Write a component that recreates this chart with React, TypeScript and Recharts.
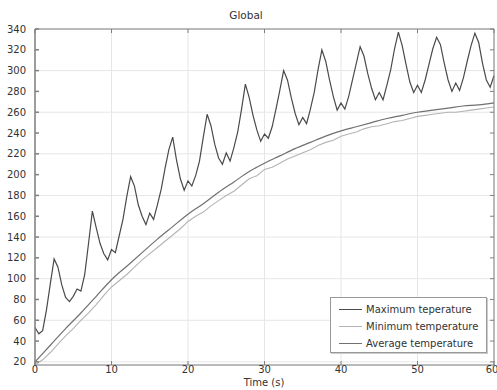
import { LineChart, Line, XAxis, YAxis, CartesianGrid } from 'recharts';

// maximum temperature, sampled every 0.5 s from t = 0 to 60
const maxTemp = [
  53, 47, 50, 70, 95, 119, 111, 94, 82, 78,
  83, 90, 88, 104, 134, 165, 149, 134, 124, 118,
  128, 125, 141, 157, 179, 198, 189, 171, 160, 152,
  163, 157, 171, 186, 206, 224, 236, 214, 196, 185,
  194, 189, 199, 213, 236, 258, 247, 229, 216, 210,
  221, 213, 226, 241, 263, 287, 274, 257, 243, 232,
  239, 235, 246, 263, 281, 300, 291, 274, 259, 248,
  255, 249, 263, 279, 301, 320, 309, 291, 275, 262,
  269, 263, 275, 291, 307, 323, 314, 297, 283, 272,
  279, 272, 286, 301, 321, 337, 324, 306, 289, 279,
  286, 279, 291, 306, 321, 332, 325, 307, 291, 280,
  288, 281, 293, 309, 324, 336, 327, 307, 291, 284,
  295,
];

// average temperature, every 2 s
const avgTemp = [
  20, 36, 52, 67, 83, 99, 112, 125, 138, 150, 162, 172, 183, 193, 203, 211,
  218, 225, 231, 237, 242, 246, 250, 254, 257, 260, 262, 264, 266, 267, 269,
];

// minimum temperature, every 1 s
const minTemp = [
  17, 22, 29, 37, 45, 52, 60, 67, 75, 84, 92, 98, 104, 111, 118, 124, 130, 136, 142, 148,
  155, 160, 164, 170, 175, 180, 184, 190, 196, 199, 205, 207, 211, 215, 218, 221, 224, 228,
  231, 233, 237, 239, 241, 244, 246, 247, 249, 251, 252, 254, 256, 257, 258, 259, 260, 260,
  261, 262, 263, 264, 265,
];

const xTicks = [0, 10, 20, 30, 40, 50, 60];
const yTicks = [20, 40, 60, 80, 100, 120, 140, 160, 180, 200, 220, 240, 260, 280, 300, 320, 340];

const legendItems = [
  { name: 'Maximum teperature', color: '#4a4a4a' },
  { name: 'Minimum temperature', color: '#b4b4b4' },
  { name: 'Average temperature', color: '#707070' },
];

const data = maxTemp.map((v, i) => {
  const t = i * 0.5;
  return {
    t,
    max: v,
    avg: i % 4 === 0 ? avgTemp[i / 4] : null,
    min: i % 2 === 0 ? minTemp[i / 2] : null,
  };
});

const font = '"DejaVu Sans", sans-serif';
const tickStyle = { fontSize: 10, fill: '#333', fontFamily: font };
const frame = '#808080';

export default function App() {
  return (
    <div style={{ position: 'absolute', left: 0, top: 0, width: 497, height: 390, background: '#fff', fontFamily: font }}>
      <div style={{ position: 'absolute', left: 0, width: 492, top: 9, textAlign: 'center', fontSize: 10.5, lineHeight: '12px', color: '#333' }}>
        Global
      </div>
      <LineChart width={497} height={390} data={data} margin={{ top: 0, right: 0, left: 0, bottom: 0 }}>
        <CartesianGrid stroke="#e6e6e6" />
        <XAxis
          dataKey="t"
          type="number"
          domain={[0, 60]}
          ticks={xTicks}
          height={25}
          tick={tickStyle}
          tickSize={-4}
          tickMargin={5}
          stroke={frame}
        />
        <XAxis
          xAxisId="top"
          orientation="top"
          dataKey="t"
          type="number"
          domain={[0, 60]}
          ticks={xTicks}
          height={29}
          tickFormatter={() => ''}
          tickSize={-4}
          stroke={frame}
        />
        <YAxis
          type="number"
          domain={[17, 340]}
          ticks={yTicks}
          allowDataOverflow
          width={35}
          tick={tickStyle}
          tickSize={-4}
          tickMargin={13}
          stroke={frame}
          strokeWidth={1.5}
        />
        <YAxis
          yAxisId="right"
          orientation="right"
          type="number"
          domain={[17, 340]}
          ticks={yTicks}
          allowDataOverflow
          width={3}
          tickFormatter={() => ''}
          tickSize={-4}
          stroke={frame}
        />
        <Line dataKey="min" stroke="#b4b4b4" strokeWidth={1.1} dot={false} connectNulls isAnimationActive={false} />
        <Line dataKey="avg" stroke="#707070" strokeWidth={1.2} dot={false} connectNulls type="monotone" isAnimationActive={false} />
        <Line dataKey="max" stroke="#4a4a4a" strokeWidth={1.2} dot={false} isAnimationActive={false} />
      </LineChart>
      <div style={{ position: 'absolute', left: 0, width: 528, top: 377, textAlign: 'center', fontSize: 10, lineHeight: '12px', color: '#333' }}>
        Time (s)
      </div>
      <div
        style={{
          position: 'absolute',
          left: 330,
          top: 297,
          width: 157,
          height: 56,
          border: '1px solid #999',
          boxShadow: '1px 1px 0 #ccc',
          background: '#fff',
          paddingTop: 3,
          boxSizing: 'border-box',
        }}
      >
        {legendItems.map((it) => (
          <div key={it.name} style={{ display: 'flex', alignItems: 'center', height: 17, fontSize: 10, color: '#333' }}>
            <span style={{ display: 'inline-block', width: 23, height: 0, borderTop: `1.5px solid ${it.color}`, marginLeft: 8, marginRight: 4 }} />
            <span>{it.name}</span>
          </div>
        ))}
      </div>
    </div>
  );
}
